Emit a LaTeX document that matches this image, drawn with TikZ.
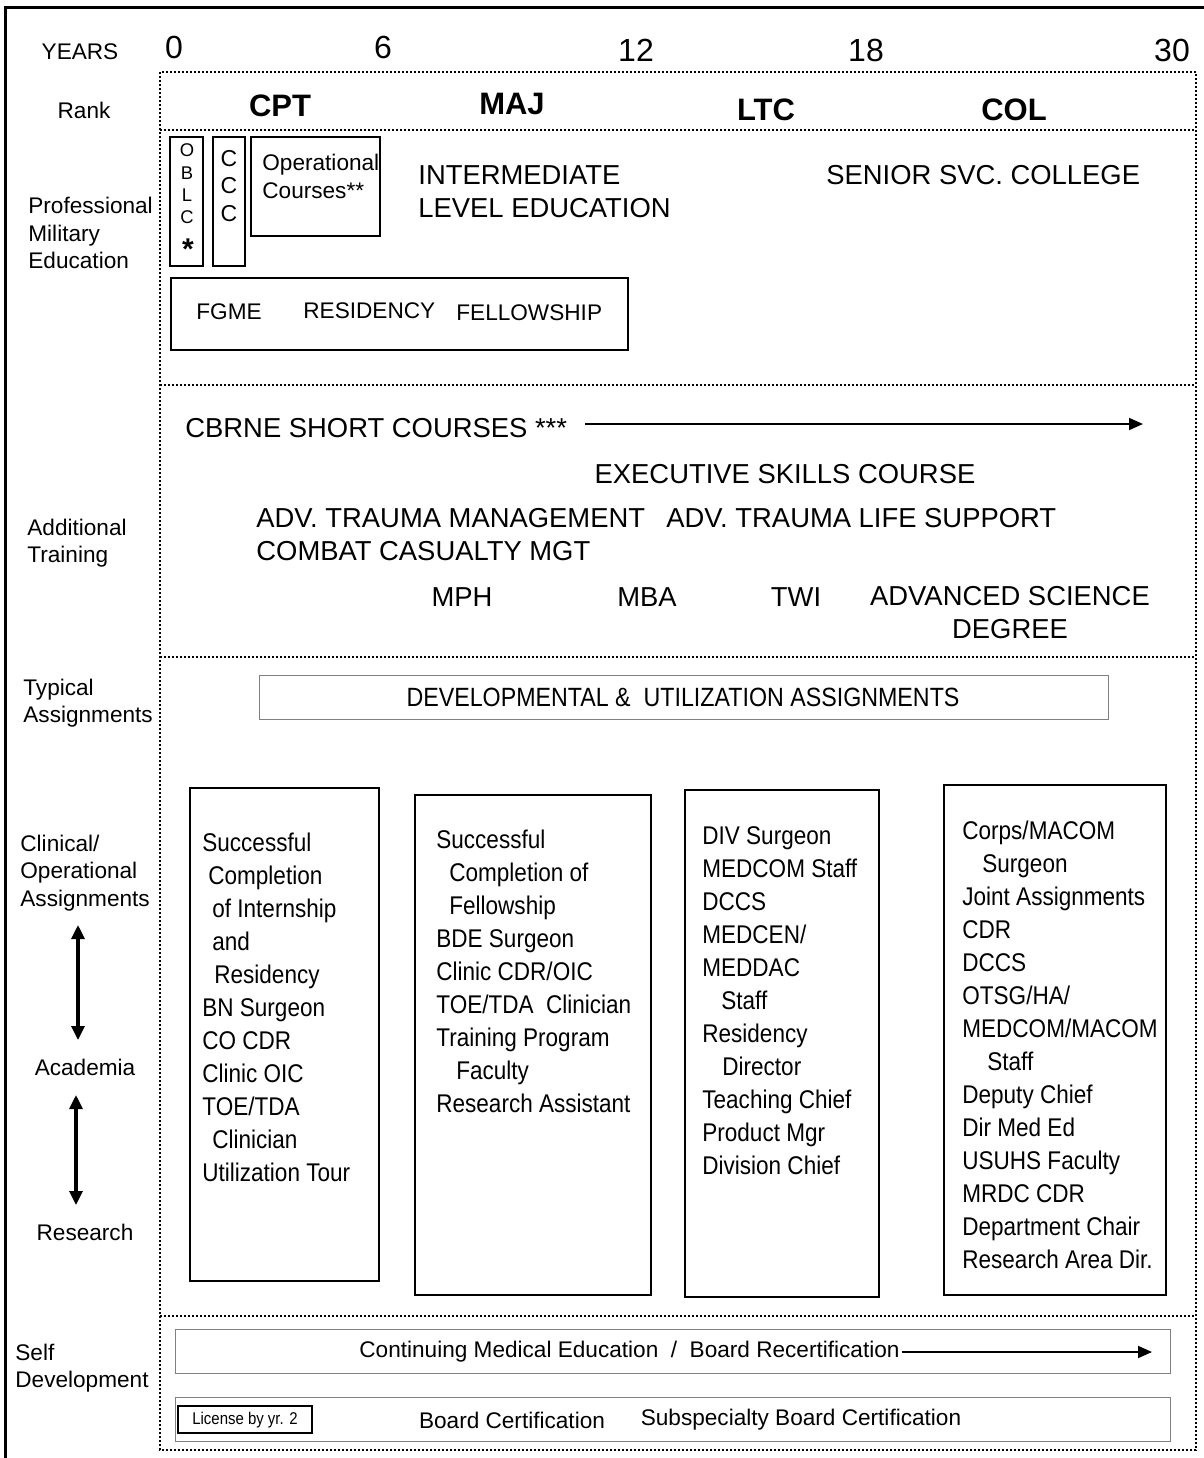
\documentclass[tikz,border=0pt]{standalone}
\usepackage{fontspec}
\setmainfont{Liberation Sans}
\newfontfamily\narrowfont[FakeStretch=0.88]{Liberation Sans}
\usepackage{tikz}
\usetikzlibrary{arrows.meta}
\usetikzlibrary{positioning}
\tikzstyle{cadre}=[line width=1.5pt]
\tikzstyle{grille}=[densely dotted,line width=1pt]
\tikzstyle{boite}=[line width=0.9pt]
\tikzstyle{fine}=[draw=gray,line width=0.5pt]
\tikzstyle{etiq}=[inner sep=0pt,align=left,font=\fontsize{11.3}{13.75}\selectfont]
\tikzstyle{grand}=[inner sep=0pt,align=left,font=\fontsize{13.7}{16.5}\selectfont]
\tikzstyle{liste}=[inner sep=0pt,align=left,anchor=north west,font=\narrowfont\fontsize{12.8}{16.5}\selectfont]
\tikzstyle{annee}=[inner sep=0pt,font=\fontsize{16}{19}\selectfont]
\tikzstyle{grade}=[inner sep=0pt,font=\bfseries\fontsize{15.5}{18}\selectfont]
\tikzstyle{suite}=[-{Triangle[length=7pt,width=6pt]},line width=0.9pt]
\tikzstyle{va}=[{Triangle[length=7pt,width=6.5pt]}-{Triangle[length=7pt,width=6.5pt]},line width=1.6pt]

\begin{document}
\begin{tikzpicture}[x=0.5pt,y=-0.5pt]
\useasboundingbox (0,0) rectangle (1204,1458);
%cadres
\draw[cadre] (5,1458) -- (5,7) -- (1204,7);
\draw[grille] (160,72) rectangle (1196,1450);
\foreach \y in {130,385,657,1316} \draw[grille] (160,\y) -- (1196,\y);
%colonne de gauche
\node[etiq] (years) at (80,52) {YEARS};
\node[etiq] (rank) at (84,110) {Rank};
\node[etiq,anchor=north west] (pme) at (28,197) {Professional\\Military\\Education};
\node[etiq,anchor=west] (addtr) at (27,543) {Additional\\Training};
\node[etiq,anchor=west] (typ) at (23,703) {Typical\\Assignments};
\node[etiq,anchor=west] (clin) at (20,873) {Clinical/\\Operational\\Assignments};
\node[etiq] (acad) at (85,1067) {Academia};
\node[etiq] (res) at (85,1232) {Research};
\node[etiq,anchor=west] (self) at (15,1368) {Self\\Development};
%annees et grades
\node[annee] (y0) at (174,47) {0};
\node[annee] (y6) at (383,47) {6};
\node[annee] (y12) at (636,50) {12};
\node[annee] (y18) at (866,50) {18};
\node[annee] (y30) at (1172,50) {30};
\node[grade] (cpt) at (280,106) {CPT};
\node[grade] (maj) at (512,104) {MAJ};
\node[grade] (ltc) at (766,110) {LTC};
\node[grade] (col) at (1014,110) {COL};
%formation militaire
\draw[boite] (170,137) rectangle (203,266);
\node[inner sep=0pt,align=center,font=\fontsize{9.2}{11.2}\selectfont] (oblc) at (187,184) {O\\B\\L\\C};
\node[inner sep=0pt,font=\bfseries\fontsize{15}{18}\selectfont] (star) at (188,249) {*};
\draw[boite] (213,137) rectangle (245,266);
\node[inner sep=0pt,align=center,font=\fontsize{11.5}{13.75}\selectfont] (ccc) at (229,186) {C\\C\\C};
\draw[boite] (251,137) rectangle (380,236);
\node[etiq,anchor=north west] (opc) at (262,154) {Operational\\Courses**};
\node[grand,anchor=north west] (ile) at (418,165) {INTERMEDIATE\\LEVEL EDUCATION};
\node[grand,anchor=west] (ssc) at (826,175) {SENIOR SVC. COLLEGE};
\draw[boite] (171,278) rectangle (628,350);
\node[etiq,anchor=west] (fgme) at (196,312) {FGME};
\node[etiq,anchor=west] (resid) at (303,311) {RESIDENCY};
\node[etiq,anchor=west] (fell) at (456,313) {FELLOWSHIP};
%formation complementaire
\node[grand,anchor=west] (cbrne) at (185,428) {CBRNE SHORT COURSES ***};
\coordinate (cbrnefin) at (1143,424);
\node[grand] (exec) at (785,474) {EXECUTIVE SKILLS COURSE};
\node[grand,anchor=west] (atm) at (256,518) {ADV. TRAUMA MANAGEMENT};
\node[grand,anchor=west] (atls) at (666,518) {ADV. TRAUMA LIFE SUPPORT};
\node[grand,anchor=west] (ccm) at (256,551) {COMBAT CASUALTY MGT};
\node[grand] (mph) at (462,597) {MPH};
\node[grand] (mba) at (647,597) {MBA};
\node[grand] (twi) at (796,597) {TWI};
\node[grand,align=center] (asd) at (1010,613) {ADVANCED SCIENCE\\DEGREE};
%affectations
\draw[fine] (259,675) rectangle (1108,719);
\node[inner sep=0pt,font=\narrowfont\fontsize{13.2}{15}\selectfont] (dev) at (683,697) {DEVELOPMENTAL \&\ \ UTILIZATION ASSIGNMENTS};
\draw[boite] (190,788) rectangle (379,1281);
\node[liste] (col1) at (202,833) {Successful\\\hspace*{3pt}Completion\\\hspace*{5pt}of Internship\\\hspace*{5pt}and\\\hspace*{6pt}Residency\\BN Surgeon\\CO CDR\\Clinic OIC\\TOE/TDA\\\hspace*{5pt}Clinician\\Utilization Tour};
\draw[boite] (415,795) rectangle (651,1295);
\node[liste] (col2) at (436,830) {Successful\\\hspace*{6.5pt}Completion of\\\hspace*{6.5pt}Fellowship\\BDE Surgeon\\Clinic CDR/OIC\\TOE/TDA\ \ Clinician\\Training Program\\\hspace*{10pt}Faculty\\Research Assistant};
\draw[boite] (685,790) rectangle (879,1297);
\node[liste] (col3) at (702,826) {DIV Surgeon\\MEDCOM Staff\\DCCS\\MEDCEN/\\MEDDAC\\\hspace*{9.5pt}Staff\\Residency\\\hspace*{10pt}Director\\Teaching Chief\\Product Mgr\\Division Chief};
\draw[boite] (944,785) rectangle (1166,1295);
\node[liste] (col4) at (962,821) {Corps/MACOM\\\hspace*{10pt}Surgeon\\Joint Assignments\\CDR\\DCCS\\OTSG/HA/\\MEDCOM/MACOM\\\hspace*{12.5pt}Staff\\Deputy Chief\\Dir Med Ed\\USUHS Faculty\\MRDC CDR\\Department Chair\\Research Area Dir.};
\coordinate (h1) at (78,925);
\coordinate (b1) at (78,1040);
\coordinate (h2) at (76,1095);
\coordinate (b2) at (76,1205);
%developpement personnel
\draw[fine] (175,1329) rectangle (1170,1373);
\node[etiq,anchor=west] (cme) at (359,1352) {Continuing Medical Education\ \ /\ \ Board Recertification};
\coordinate (cmefin) at (1152,1352);
\draw[fine] (175,1397) rectangle (1170,1441);
\draw[line width=0.7pt] (178,1406) rectangle (312,1433);
\node[inner sep=0pt,font=\narrowfont\fontsize{8.5}{10}\selectfont] (lic) at (245,1420) {License by yr. 2};
\node[etiq] (bc) at (512,1420) {Board Certification};
\node[etiq] (sbc) at (801,1420) {Subspecialty Board Certification};
%fleches
\draw[suite] ([xshift=9pt,yshift=2pt]cbrne.east) -- (cbrnefin);
\draw[suite] ([xshift=1pt]cme.east) -- (cmefin);
\draw[va] (h1) -- (b1);
\draw[va] (h2) -- (b2);
\end{tikzpicture}
\end{document}
